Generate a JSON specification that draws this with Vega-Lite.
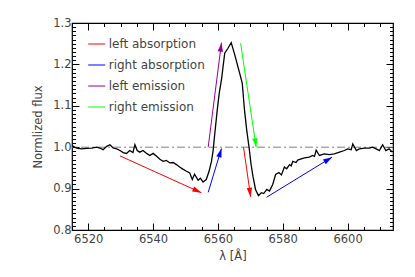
{
  "$schema": "https://vega.github.io/schema/vega-lite/v6.json",
  "width": 321,
  "height": 207,
  "autosize": {"type": "none"},
  "padding": {"left": 72, "top": 23, "right": 22, "bottom": 47},
  "background": "white",
  "config": {
    "view": {"stroke": "#000000", "strokeWidth": 1.2},
    "axis": {
      "domain": false,
      "grid": false,
      "labelFont": "DejaVu Sans",
      "labelFontSize": 11.5,
      "labelColor": "#444444",
      "titleFont": "DejaVu Sans",
      "titleFontSize": 11.5,
      "titleFontWeight": "normal",
      "titleColor": "#444444",
      "tickColor": "#000000",
      "tickWidth": 1
    },
    "legend": {
      "labelFont": "DejaVu Sans",
      "labelFontSize": 12,
      "labelColor": "#444444"
    }
  },
  "datasets": {
    "spectrum": [
      {"wl": 6515.0, "flux": 1.004}, {"wl": 6516.4, "flux": 0.998}, {"wl": 6518.0, "flux": 0.996}, {"wl": 6519.5, "flux": 0.997},
      {"wl": 6521.1, "flux": 0.998}, {"wl": 6522.6, "flux": 1.0}, {"wl": 6523.6, "flux": 0.998}, {"wl": 6524.6, "flux": 0.994},
      {"wl": 6525.7, "flux": 1.002}, {"wl": 6526.7, "flux": 1.006}, {"wl": 6527.7, "flux": 0.998}, {"wl": 6528.8, "flux": 0.996},
      {"wl": 6529.8, "flux": 0.992}, {"wl": 6530.8, "flux": 0.987}, {"wl": 6531.8, "flux": 0.985}, {"wl": 6532.8, "flux": 0.992},
      {"wl": 6533.8, "flux": 0.987}, {"wl": 6534.4, "flux": 1.006}, {"wl": 6535.1, "flux": 0.992}, {"wl": 6535.9, "flux": 0.988},
      {"wl": 6536.9, "flux": 0.992}, {"wl": 6538.0, "flux": 0.985}, {"wl": 6539.0, "flux": 0.98}, {"wl": 6540.0, "flux": 0.985},
      {"wl": 6541.1, "flux": 0.978}, {"wl": 6542.1, "flux": 0.971}, {"wl": 6543.1, "flux": 0.966}, {"wl": 6544.1, "flux": 0.968},
      {"wl": 6545.2, "flux": 0.962}, {"wl": 6546.2, "flux": 0.963}, {"wl": 6547.2, "flux": 0.958}, {"wl": 6548.2, "flux": 0.952},
      {"wl": 6549.2, "flux": 0.947}, {"wl": 6550.3, "flux": 0.942}, {"wl": 6551.3, "flux": 0.938}, {"wl": 6552.1, "flux": 0.922},
      {"wl": 6552.8, "flux": 0.935}, {"wl": 6553.9, "flux": 0.92}, {"wl": 6554.6, "flux": 0.925}, {"wl": 6555.4, "flux": 0.916},
      {"wl": 6556.4, "flux": 0.922}, {"wl": 6557.2, "flux": 0.94}, {"wl": 6558.0, "flux": 0.965}, {"wl": 6558.5, "flux": 0.99},
      {"wl": 6559.0, "flux": 1.03}, {"wl": 6559.8, "flux": 1.09}, {"wl": 6560.4, "flux": 1.13}, {"wl": 6561.1, "flux": 1.163},
      {"wl": 6562.1, "flux": 1.227}, {"wl": 6563.1, "flux": 1.239}, {"wl": 6564.1, "flux": 1.2525}, {"wl": 6565.2, "flux": 1.223},
      {"wl": 6566.7, "flux": 1.179}, {"wl": 6567.5, "flux": 1.155}, {"wl": 6568.2, "flux": 1.09}, {"wl": 6568.9, "flux": 1.04},
      {"wl": 6569.6, "flux": 1.0}, {"wl": 6570.2, "flux": 0.96}, {"wl": 6570.8, "flux": 0.93}, {"wl": 6571.6, "flux": 0.898},
      {"wl": 6572.5, "flux": 0.883}, {"wl": 6573.4, "flux": 0.89}, {"wl": 6574.1, "flux": 0.888}, {"wl": 6575.1, "flux": 0.898},
      {"wl": 6575.9, "flux": 0.894}, {"wl": 6576.9, "flux": 0.91}, {"wl": 6577.8, "flux": 0.934}, {"wl": 6578.8, "flux": 0.939},
      {"wl": 6579.6, "flux": 0.933}, {"wl": 6580.5, "flux": 0.952}, {"wl": 6581.2, "flux": 0.948}, {"wl": 6582.1, "flux": 0.958},
      {"wl": 6582.6, "flux": 0.955}, {"wl": 6583.1, "flux": 0.966}, {"wl": 6584.1, "flux": 0.963}, {"wl": 6584.6, "flux": 0.969},
      {"wl": 6585.7, "flux": 0.972}, {"wl": 6586.7, "flux": 0.974}, {"wl": 6588.2, "flux": 0.976}, {"wl": 6589.2, "flux": 0.98},
      {"wl": 6589.8, "flux": 0.978}, {"wl": 6590.3, "flux": 0.993}, {"wl": 6591.3, "flux": 0.98}, {"wl": 6592.8, "flux": 0.984},
      {"wl": 6594.4, "flux": 0.982}, {"wl": 6595.9, "flux": 0.984}, {"wl": 6597.5, "flux": 0.988}, {"wl": 6599.0, "flux": 0.992},
      {"wl": 6600.0, "flux": 0.996}, {"wl": 6601.1, "flux": 0.994}, {"wl": 6601.6, "flux": 1.008}, {"wl": 6602.7, "flux": 0.992},
      {"wl": 6603.6, "flux": 0.996}, {"wl": 6605.2, "flux": 0.998}, {"wl": 6606.7, "flux": 0.998}, {"wl": 6607.7, "flux": 1.0},
      {"wl": 6608.8, "flux": 0.996}, {"wl": 6609.8, "flux": 0.992}, {"wl": 6610.8, "flux": 1.006}, {"wl": 6611.8, "flux": 0.992},
      {"wl": 6612.8, "flux": 0.996}, {"wl": 6613.8, "flux": 0.988}
    ],
    "arrows": [
      {"id": "a1", "type": "left absorption", "x": 6529.8, "y": 0.979, "x2": 6554.9, "y2": 0.890},
      {"id": "a2", "type": "right absorption", "x": 6557.0, "y": 0.891, "x2": 6561.1, "y2": 0.997},
      {"id": "a3", "type": "left emission", "x": 6557.0, "y": 1.0, "x2": 6561.1, "y2": 1.2525},
      {"id": "a4", "type": "right emission", "x": 6567.0, "y": 1.251, "x2": 6571.8, "y2": 1.0},
      {"id": "a5", "type": "left absorption", "x": 6567.9, "y": 1.0, "x2": 6570.1, "y2": 0.880},
      {"id": "a6", "type": "right absorption", "x": 6575.0, "y": 0.879, "x2": 6595.2, "y2": 0.976}
    ],
    "ref": [{"level": 1.0}]
  },
  "resolve": {"axis": {"x": "independent", "y": "independent"}},
  "layer": [
    {
      "data": {"name": "ref"},
      "mark": {"type": "rule", "color": "#808080", "strokeWidth": 1, "strokeDash": [8, 3, 2, 3]},
      "encoding": {
        "y": {"field": "level", "type": "quantitative", "scale": {"domain": [0.8, 1.3], "nice": false, "zero": false}, "axis": null}
      }
    },
    {
      "data": {"name": "spectrum"},
      "mark": {"type": "line", "color": "#000000", "strokeWidth": 1.3},
      "encoding": {
        "x": {"field": "wl", "type": "quantitative", "scale": {"domain": [6515, 6614], "nice": false, "zero": false},
              "axis": {"orient": "bottom", "values": [6520, 6540, 6560, 6580, 6600], "tickSize": -7, "labelPadding": 10, "title": "λ [Å]", "titlePadding": 6, "format": "d"}},
        "y": {"field": "flux", "type": "quantitative", "scale": {"domain": [0.8, 1.3], "nice": false, "zero": false},
              "axis": {"orient": "left", "values": [0.8, 0.9, 1.0, 1.1, 1.2, 1.3], "tickSize": -7, "labelPadding": 8, "format": ".1f", "title": "Normlized flux", "titlePadding": 9}}
      }
    },
    {
      "data": {"name": "arrows"},
      "mark": {"type": "rule", "strokeWidth": 1},
      "encoding": {
        "x": {"field": "x", "type": "quantitative",
              "axis": {"orient": "top", "values": [6520, 6540, 6560, 6580, 6600], "tickSize": -7, "labels": false, "title": null}},
        "y": {"field": "y", "type": "quantitative",
              "axis": {"orient": "right", "values": [0.8, 0.9, 1.0, 1.1, 1.2, 1.3], "tickSize": -7, "labels": false, "title": null}},
        "x2": {"field": "x2"},
        "y2": {"field": "y2"},
        "color": {"field": "type", "type": "nominal",
                  "scale": {"domain": ["left absorption", "right absorption", "left emission", "right emission"], "range": ["#ff0000", "#0000ff", "#990099", "#00ff00"]},
                  "legend": {"title": null, "orient": "none", "legendX": 15.7, "legendY": 12, "padding": 0, "symbolType": "stroke", "symbolSize": 289, "symbolStrokeWidth": 1, "labelOffset": 3, "rowPadding": 6}}
      }
    },
    {
      "data": {"name": "arrows"},
      "transform": [{"filter": "datum.id === 'a1'"}],
      "mark": {"type": "point", "shape": "M0,0L-0.3,1L0.3,1Z", "filled": true, "opacity": 1, "strokeWidth": 0, "size": 324, "angle": 114, "color": "#ff0000"},
      "encoding": {
        "x": {"field": "x2", "type": "quantitative",
              "axis": {"orient": "bottom", "values": [6515, 6525, 6530, 6535, 6545, 6550, 6555, 6565, 6570, 6575, 6585, 6590, 6595, 6605, 6610], "tickSize": -3.5, "labels": false, "title": null}},
        "y": {"field": "y2", "type": "quantitative",
              "axis": {"orient": "left", "values": [0.81, 0.82, 0.83, 0.84, 0.85, 0.86, 0.87, 0.88, 0.89, 0.91, 0.92, 0.93, 0.94, 0.95, 0.96, 0.97, 0.98, 0.99, 1.01, 1.02, 1.03, 1.04, 1.05, 1.06, 1.07, 1.08, 1.09, 1.11, 1.12, 1.13, 1.14, 1.15, 1.16, 1.17, 1.18, 1.19, 1.21, 1.22, 1.23, 1.24, 1.25, 1.26, 1.27, 1.28, 1.29], "tickSize": -3.5, "labels": false, "title": null}}
      }
    },
    {
      "data": {"name": "arrows"},
      "transform": [{"filter": "datum.id === 'a2'"}],
      "mark": {"type": "point", "shape": "M0,0L-0.3,1L0.3,1Z", "filled": true, "opacity": 1, "strokeWidth": 0, "size": 324, "angle": 16.5, "color": "#0000ff"},
      "encoding": {
        "x": {"field": "x2", "type": "quantitative",
              "axis": {"orient": "top", "values": [6515, 6525, 6530, 6535, 6545, 6550, 6555, 6565, 6570, 6575, 6585, 6590, 6595, 6605, 6610], "tickSize": -3.5, "labels": false, "title": null}},
        "y": {"field": "y2", "type": "quantitative",
              "axis": {"orient": "right", "values": [0.81, 0.82, 0.83, 0.84, 0.85, 0.86, 0.87, 0.88, 0.89, 0.91, 0.92, 0.93, 0.94, 0.95, 0.96, 0.97, 0.98, 0.99, 1.01, 1.02, 1.03, 1.04, 1.05, 1.06, 1.07, 1.08, 1.09, 1.11, 1.12, 1.13, 1.14, 1.15, 1.16, 1.17, 1.18, 1.19, 1.21, 1.22, 1.23, 1.24, 1.25, 1.26, 1.27, 1.28, 1.29], "tickSize": -3.5, "labels": false, "title": null}}
      }
    },
    {
      "data": {"name": "arrows"},
      "transform": [{"filter": "datum.id === 'a3'"}],
      "mark": {"type": "point", "shape": "M0,0L-0.3,1L0.3,1Z", "filled": true, "opacity": 1, "strokeWidth": 0, "size": 324, "angle": 7.3, "color": "#990099"},
      "encoding": {
        "x": {"field": "x2", "type": "quantitative", "axis": null},
        "y": {"field": "y2", "type": "quantitative", "axis": null}
      }
    },
    {
      "data": {"name": "arrows"},
      "transform": [{"filter": "datum.id === 'a4'"}],
      "mark": {"type": "point", "shape": "M0,0L-0.3,1L0.3,1Z", "filled": true, "opacity": 1, "strokeWidth": 0, "size": 324, "angle": 171.4, "color": "#00ff00"},
      "encoding": {
        "x": {"field": "x2", "type": "quantitative", "axis": null},
        "y": {"field": "y2", "type": "quantitative", "axis": null}
      }
    },
    {
      "data": {"name": "arrows"},
      "transform": [{"filter": "datum.id === 'a5'"}],
      "mark": {"type": "point", "shape": "M0,0L-0.3,1L0.3,1Z", "filled": true, "opacity": 1, "strokeWidth": 0, "size": 324, "angle": 172, "color": "#ff0000"},
      "encoding": {
        "x": {"field": "x2", "type": "quantitative", "axis": null},
        "y": {"field": "y2", "type": "quantitative", "axis": null}
      }
    },
    {
      "data": {"name": "arrows"},
      "transform": [{"filter": "datum.id === 'a6'"}],
      "mark": {"type": "point", "shape": "M0,0L-0.3,1L0.3,1Z", "filled": true, "opacity": 1, "strokeWidth": 0, "size": 324, "angle": 58.5, "color": "#0000ff"},
      "encoding": {
        "x": {"field": "x2", "type": "quantitative", "axis": null},
        "y": {"field": "y2", "type": "quantitative", "axis": null}
      }
    }
  ]
}
